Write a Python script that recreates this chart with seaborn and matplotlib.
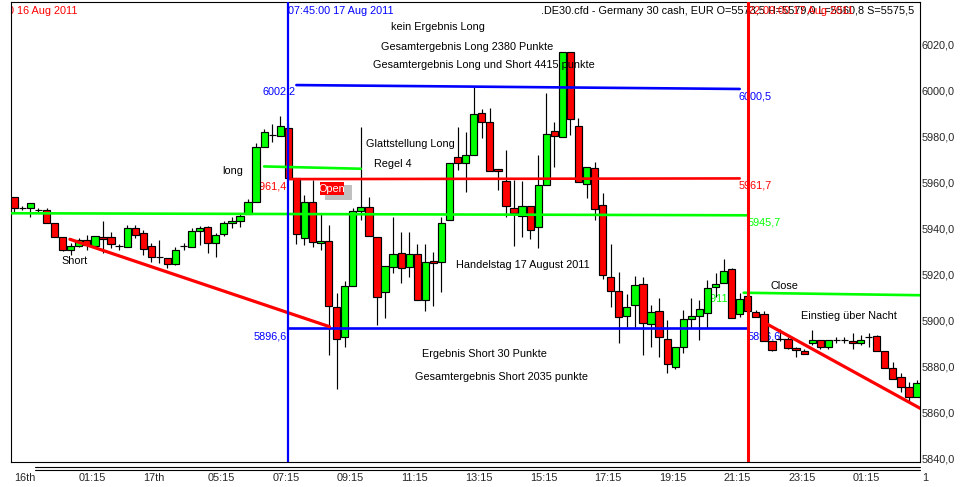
import matplotlib
matplotlib.use("Agg")
import matplotlib.pyplot as plt
from matplotlib.patches import Rectangle
from matplotlib.lines import Line2D
import numpy as np
import pandas as pd
import seaborn as sns

# ---------------- data ----------------
opens = [5953.6, 5948.9, 5948.9, 5948.0, 5948.0, 5942.4, 5936.3, 5930.6, 5932.4, 5935.0,
         5932.4, 5936.3, 5936.3, 5932.4, 5932.0, 5940.2, 5938.0, 5932.4, 5927.6, 5927.2,
         5924.6, 5932.2, 5932.0, 5938.9, 5940.6, 5933.7, 5937.6, 5942.4, 5943.2, 5946.3,
         5951.5, 5975.3, 5980.5, 5980.1, 5983.6, 5961.9, 5935.9, 5951.5, 5933.7, 5934.6,
         5905.9, 5892.9, 5915.0, 5947.6, 5949.3, 5936.3, 5912.4, 5923.3, 5929.3, 5923.3,
         5928.9, 5909.0, 5926.0, 5925.4, 5943.7, 5971.0, 5968.4, 5971.9, 5990.1, 5986.2,
         5965.8, 5960.6, 5948.9, 5945.4, 5949.7, 5940.6, 5958.8, 5982.3, 5979.7, 6016.5,
         5984.4, 5959.3, 5966.2, 5950.2, 5918.9, 5912.9, 5902.0, 5906.8, 5915.9, 5898.6,
         5904.2, 5892.0, 5879.9, 5888.6, 5900.7, 5902.0, 5903.3, 5914.6, 5916.3, 5922.4,
         5902.9, 5910.7, 5903.8, 5902.9, 5891.2, 5892.0, 5892.0, 5888.0, 5887.0, 5890.2,
         5891.6, 5888.4, 5891.6, 5891.6, 5891.3, 5890.4, 5892.8, 5893.3, 5887.0, 5879.3,
         5875.4, 5871.1, 5866.8]
highs = [5953.6, 5949.7, 5951.0, 5948.9, 5948.9, 5942.4, 5936.3, 5933.7, 5935.9, 5937.2,
         5936.7, 5943.2, 5938.5, 5933.3, 5941.5, 5941.5, 5939.3, 5933.7, 5935.0, 5927.2,
         5932.0, 5933.7, 5940.2, 5941.1, 5941.1, 5938.0, 5943.2, 5945.0, 5946.7, 5952.8,
         5977.1, 5983.1, 5985.3, 5988.8, 5985.7, 5961.9, 5954.5, 5961.0, 5946.7, 5941.5,
         5912.0, 5917.2, 5948.9, 5984.0, 5953.6, 5936.3, 5923.7, 5945.0, 5938.5, 5938.5,
         5933.3, 5933.3, 5929.8, 5945.0, 5968.4, 5984.0, 5981.8, 6001.3, 5991.8, 5992.2,
         5965.8, 5974.0, 5961.0, 5960.6, 5949.7, 5971.9, 5998.7, 5986.2, 6016.5, 6016.5,
         5987.9, 5966.6, 5968.8, 5955.4, 5933.3, 5921.1, 5911.5, 5919.4, 5918.9, 5906.8,
         5909.8, 5900.3, 5888.6, 5904.6, 5909.8, 5909.0, 5917.6, 5920.7, 5926.7, 5922.8,
         5912.0, 5912.0, 5904.6, 5904.2, 5891.2, 5896.4, 5892.9, 5888.6, 5887.7, 5896.0,
         5891.6, 5891.6, 5892.9, 5892.9, 5894.6, 5893.8, 5894.6, 5893.8, 5887.0, 5882.1,
         5877.3, 5873.4, 5874.3]
lows = [5947.1, 5948.0, 5945.0, 5946.7, 5942.4, 5936.3, 5930.2, 5928.5, 5932.0, 5930.6,
        5931.5, 5929.3, 5931.5, 5930.6, 5932.0, 5935.9, 5928.5, 5925.4, 5925.0, 5922.8,
        5924.1, 5930.6, 5932.0, 5932.8, 5929.3, 5927.6, 5936.7, 5940.2, 5940.6, 5946.3,
        5951.5, 5975.3, 5977.5, 5980.1, 5961.9, 5933.3, 5932.8, 5932.0, 5930.6, 5885.1,
        5870.4, 5888.6, 5915.0, 5943.7, 5936.7, 5898.1, 5901.2, 5920.7, 5916.3, 5918.9,
        5909.0, 5904.2, 5906.4, 5912.4, 5943.7, 5965.3, 5955.8, 5971.9, 5979.2, 5964.9,
        5956.7, 5945.0, 5932.4, 5936.3, 5935.4, 5931.5, 5958.8, 5966.7, 5979.7, 5980.5,
        5960.1, 5953.2, 5943.7, 5918.1, 5905.9, 5890.3, 5897.3, 5897.3, 5885.1, 5888.6,
        5884.2, 5877.3, 5879.0, 5886.0, 5896.8, 5891.6, 5896.8, 5910.3, 5916.3, 5901.2,
        5901.6, 5904.2, 5901.4, 5891.2, 5886.8, 5891.2, 5887.7, 5884.2, 5885.4, 5889.4,
        5887.7, 5887.7, 5890.3, 5890.3, 5887.7, 5889.4, 5888.6, 5887.0, 5879.3, 5874.6,
        5869.1, 5864.7, 5866.8]
closes = [5948.9, 5948.9, 5951.0, 5948.0, 5942.4, 5936.3, 5930.6, 5932.4, 5935.0, 5932.8,
          5936.7, 5935.4, 5933.3, 5932.4, 5940.2, 5937.2, 5931.1, 5927.6, 5927.6, 5924.6,
          5930.6, 5932.2, 5938.9, 5940.2, 5933.7, 5937.2, 5942.4, 5943.2, 5945.4, 5951.5,
          5975.3, 5981.8, 5980.5, 5984.4, 5961.9, 5937.6, 5951.5, 5934.1, 5934.7, 5906.4,
          5892.0, 5915.0, 5947.6, 5949.3, 5936.7, 5910.3, 5923.7, 5928.9, 5922.8, 5928.9,
          5909.0, 5925.4, 5924.9, 5942.4, 5968.4, 5968.4, 5971.9, 5989.6, 5986.2, 5964.9,
          5964.9, 5949.7, 5946.7, 5949.7, 5939.3, 5958.8, 5981.0, 5980.1, 6016.5, 5987.5,
          5960.1, 5966.6, 5948.4, 5919.8, 5912.9, 5901.6, 5905.9, 5915.5, 5899.0, 5903.8,
          5892.9, 5881.2, 5888.6, 5900.7, 5902.0, 5905.1, 5914.2, 5915.9, 5921.5, 5901.2,
          5909.4, 5904.2, 5901.4, 5891.2, 5887.3, 5892.0, 5888.0, 5887.3, 5885.4, 5891.6,
          5888.4, 5891.6, 5891.6, 5891.6, 5890.2, 5891.6, 5892.8, 5887.0, 5879.3, 5874.6,
          5871.1, 5866.8, 5872.8]

tick_bars = [0, 8, 16, 24, 32, 40, 48, 56, 64, 72, 80, 88, 96, 104]
tick_labels = ["16th", "01:15", "17th", "05:15", "07:15", "09:15", "11:15", "13:15",
               "15:15", "17:15", "19:15", "21:15", "23:15", "01:15"]
price_ticks = [5840, 5860, 5880, 5900, 5920, 5940, 5960, 5980, 6000, 6020]

# horizontal / trend lines: (bar_start, price_start, bar_end, price_end)
blue_top = (35, 6002.2, 90, 6000.5)
red_mid = (34, 5961.4, 90, 5961.7)
green_mid = (-1, 5946.6, 91, 5945.7)
blue_low = (34, 5896.6, 91, 5896.6)
green_short = (31, 5966.9, 43, 5965.9)
green_close = (90.5, 5912.1, 113, 5911.0)
red_trend1 = (6.9, 5935.3, 39.1, 5897.4)
red_trend2 = (93.35, 5898.6, 113, 5860.8)
vline_blue_bar = 34
vline_red_bar = 91

# ---------------- style ----------------
sns.set_style("white")
plt.rcParams['font.family'] = ['Liberation Sans', 'DejaVu Sans']
FS = 7.8
GREEN = "#00FF00"
RED = "#FF0000"
BLUE = "#0000FF"

W, H = 961, 487
fig = plt.figure(figsize=(W / 100, H / 100), dpi=100)
left_px, right_px, top_px, bot_px = 10.5, 920.0, 2.3, 461.5
ax = fig.add_axes([left_px / W, 1 - bot_px / H, (right_px - left_px) / W, (bot_px - top_px) / H])

df = pd.DataFrame({"o": opens, "h": highs, "l": lows, "c": closes})
df["i"] = np.arange(len(df))
df["bottom"] = df[["o", "c"]].min(axis=1)
df["height"] = (df["c"] - df["o"]).abs()
df["col"] = np.where(df["c"] > df["o"], GREEN, np.where(df["c"] < df["o"], RED, "black"))

# wicks
ax.vlines(df["i"], df["l"], df["h"], color="black", linewidth=0.85, zorder=2)
# bodies
ax.bar(df["i"], df["height"], bottom=df["bottom"], width=0.9, color=df["col"],
       edgecolor="black", linewidth=0.85, zorder=3)

def seg(line, color, lw):
    x0, y0, x1, y1 = line
    sns.lineplot(x=[x0, x1], y=[y0, y1], color=color, linewidth=lw, ax=ax,
                 estimator=None, sort=False, zorder=4)

seg(blue_top, BLUE, 1.9)
seg(red_mid, RED, 1.9)
seg(green_mid, GREEN, 1.9)
seg(blue_low, BLUE, 1.9)
seg(green_short, GREEN, 1.9)
seg(green_close, GREEN, 1.9)
seg(red_trend1, RED, 2.3)
seg(red_trend2, RED, 2.3)

ax.axvline(vline_blue_bar, color=BLUE, linewidth=1.6, zorder=5)
ax.axvline(vline_red_bar, color=RED, linewidth=2.2, zorder=5)

# ---------------- texts ----------------
def t(x, y, s, color="black", ha="center", va="center", z=6, **kw):
    ax.text(x, y, s, color=color, ha=ha, va=va, fontsize=FS, zorder=z, **kw)

t(52.6, 6027.4, "kein Ergebnis Long")
t(56.2, 6018.7, "Gesamtergebnis Long 2380 Punkte")
t(58.3, 6010.9, "Gesamtergebnis Long und Short 4415 punkte")
t(49.1, 5976.6, "Glattstellung Long")
t(47.0, 5967.9, "Regel 4")
t(27.05, 5964.9, "long")
t(7.47, 5925.9, "Short")
t(63.05, 5924.1, "Handelstag 17 August 2011")
t(58.3, 5885.5, "Ergebnis Short 30 Punkte")
t(60.4, 5875.6, "Gesamtergebnis Short 2035 punkte")
t(95.5, 5915.0, "Close")
t(103.6, 5902.0, "Einstieg über Nacht")

# level labels
t(34.95, 5999.2, "6002,2", color=BLUE, ha="right", z=1)
t(33.8, 5958.4, "5961,4", color=RED, ha="right", z=1)
t(33.8, 5893.3, "5896,6", color=BLUE, ha="right", z=1)
t(89.9, 5997.4, "6000,5", color=BLUE, ha="left", z=1)
t(89.9, 5958.6, "5961,7", color=RED, ha="left", z=1)
t(91.0, 5942.6, "5945,7", color=GREEN, ha="left", z=1)
t(89.7, 5909.4, "5911,8", color=GREEN, ha="right", z=1)
t(91.0, 5893.3, "5896,6", color=BLUE, ha="left", z=1)

# vertical line labels and title
t(34.0, 6034.2, "07:45:00 17 Aug 2011", color=BLUE, ha="left", z=1)
t(91.0, 6034.2, "22:00:00 17 Aug 2011", color=RED, ha="left", z=2)
t(7.9, 6034.2, "22:00:00 16 Aug 2011", color=RED, ha="right", z=1, clip_on=True)
t(65.3, 6034.2, ".DE30.cfd - Germany 30 cash, EUR O=5573,5 H=5579,0 L=5560,8 S=5575,5",
  ha="left", z=1)

# Open marker
ax.add_patch(Rectangle((38.55, 5952.2), 3.3, 6.5, facecolor="#C0C0C0", edgecolor="none", zorder=6))
ax.add_patch(Rectangle((37.93, 5954.4), 2.92, 5.8, facecolor=RED, edgecolor="none", zorder=7))
ax.text(39.4, 5957.3, "Open", color="white", ha="center", va="center", fontsize=FS, zorder=8)

# ---------------- axes ----------------
ax.set_xlim(-0.47, 112.37)
ax.set_ylim(5838.9, 6038.1)
ax.set_xticks(tick_bars)
ax.set_xticklabels(tick_labels, fontsize=FS)
for lab in ax.get_xticklabels():
    lab.set_ha("left")
ax.text(112.6, -0.026, "1", transform=ax.get_xaxis_transform(), ha="left", va="top",
        fontsize=FS, clip_on=False)
ax.yaxis.tick_right()
ax.set_yticks(price_ticks)
ax.set_yticklabels([f"{v:.1f}".replace(".", ",") for v in price_ticks], fontsize=FS)
ax.tick_params(axis="x", length=0, pad=8.5)
ax.tick_params(axis="y", length=0, pad=1.2)
ax.set_xlabel("")
ax.set_ylabel("")
for sp in ax.spines.values():
    sp.set_color("black")
    sp.set_linewidth(0.8)
    sp.set_visible(True)

for yy in (467.3, 470.3):
    fig.add_artist(Line2D([35 / W, 920 / W], [1 - yy / H, 1 - yy / H], color="black", linewidth=0.8))

fig.savefig("out.png", dpi=100)
